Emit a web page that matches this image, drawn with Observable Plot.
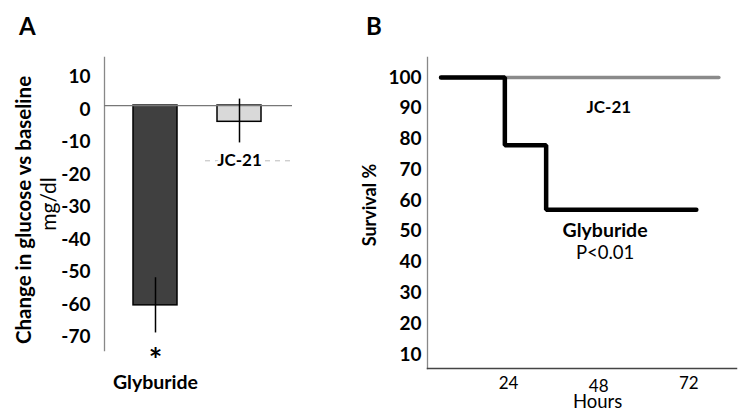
<!DOCTYPE html>
<html>
<head>
<meta charset="utf-8">
<script src="https://cdn.jsdelivr.net/npm/d3@7"></script>
<script src="https://cdn.jsdelivr.net/npm/@observablehq/plot@0.6"></script>
<style>
  html, body { margin: 0; padding: 0; background: #fff; }
  #wrap { position: relative; width: 738px; height: 412px; overflow: hidden; font-family: Lato, sans-serif; }
  #a, #b { position: absolute; top: 0; }
  #a { left: 0; }
  #b { left: 370px; }
  .panel { position: absolute; font-weight: bold; font-size: 24px; color: #000; line-height: 1; }
</style>
</head>
<body>
<div id="wrap">
  <div id="a"></div>
  <div id="b"></div>
  <div class="panel" style="left:19px; top:14px;">A</div>
  <div class="panel" style="left:366px; top:14px;">B</div>
</div>
<script>
// ---------- Panel A data ----------
const categories = ["Glyburide", "JC-21"];
const glucoseChange = [-61.5, -5];
const errLow = [-70, -11.5];
const errHigh = [-53, 2];
const yTicksA = [10, 0, -10, -20, -30, -40, -50, -60, -70];
const yDomainA = [-75.4, 14.8];

// ---------- Panel B data ----------
const glyHours = [6, 23, 34, 74];
const glySurvival = [100, 78, 57, 57];
const jcHours = [6, 80];
const jcSurvival = [100, 100];
const yTicksB = [10, 20, 30, 40, 50, 60, 70, 80, 90, 100];
const xTicksB = [24, 48, 72];
const xDomainB = [2.4, 84.7];
const yDomainB = [5.45, 106.5];

const barsA = categories.map((c, i) => ({cat: c, value: glucoseChange[i], lo: errLow[i], hi: errHigh[i]}));
const glyLine = glyHours.map((h, i) => ({h, s: glySurvival[i]}));
const jcLine = jcHours.map((h, i) => ({h, s: jcSurvival[i]}));
const plain = d => String(d);

const chartA = Plot.plot({
  width: 370,
  height: 412,
  marginLeft: 104,
  marginRight: 78,
  marginTop: 57,
  marginBottom: 62,
  style: {fontFamily: "Lato, sans-serif", background: "transparent", overflow: "visible"},
  x: {domain: categories, range: [132, 261], paddingInner: 0.48, paddingOuter: 0, axis: null},
  y: {domain: yDomainA, axis: null},
  marks: [
    Plot.frame({anchor: "left", stroke: "#888", strokeWidth: 1.3}),
    Plot.tickY([{cat: "JC-21", v: -17}], {x: "cat", y: "v", stroke: "#bbb", strokeDasharray: "5,5", strokeWidth: 1, insetLeft: -12, insetRight: -31}),
    Plot.barY(barsA, {x: "cat", y: "value", fill: d => d.cat === "Glyburide" ? "#404040" : "#d9d9d9", stroke: "#000", strokeWidth: 1.5}),
    Plot.ruleY([0], {stroke: "#777", strokeWidth: 1.3}),
    Plot.ruleX(barsA, {x: "cat", y1: "lo", y2: "hi", stroke: "#000", strokeWidth: 1.5}),
    Plot.axisY(yTicksA, {tickSize: 0, tickPadding: 14, tickFormat: plain, fontSize: 19, fontWeight: "bold", fill: "#000", dy: 4, label: null}),
    Plot.text([{cat: "JC-21", v: -17}], {x: "cat", y: "v", text: d => d.cat, fontSize: 17, fontWeight: "bold", fill: "#000", stroke: "white", strokeWidth: 6}),
    Plot.text([{cat: "Glyburide"}], {x: "cat", text: () => "*", frameAnchor: "bottom", lineAnchor: "middle", dy: 11, fontSize: 32, fontWeight: "bold", fill: "#000"}),
    Plot.text([{cat: "Glyburide"}], {x: "cat", text: "cat", frameAnchor: "bottom", lineAnchor: "middle", dy: 32, fontSize: 19.5, fontWeight: "bold", fill: "#000"}),
    Plot.text(["Change in glucose vs baseline"], {text: d => d, frameAnchor: "left", textAnchor: "middle", lineAnchor: "middle", rotate: -90, dx: -80, dy: 6, fontSize: 20.5, fontWeight: "bold", fill: "#000"}),
    Plot.text(["mg/dl"], {text: d => d, frameAnchor: "left", textAnchor: "middle", lineAnchor: "middle", rotate: -90, dx: -55, dy: 0, fontSize: 21, fill: "#000"})
  ]
});
document.getElementById("a").appendChild(chartA);

const chartB = Plot.plot({
  width: 368,
  height: 412,
  marginLeft: 57,
  marginRight: 2,
  marginTop: 57,
  marginBottom: 44,
  style: {fontFamily: "Lato, sans-serif", background: "transparent", overflow: "visible"},
  x: {domain: xDomainB, axis: null},
  y: {domain: yDomainB, axis: null},
  marks: [
    Plot.frame({anchor: "left", stroke: "#888", strokeWidth: 1.3}),
    Plot.frame({anchor: "bottom", stroke: "#444", strokeWidth: 1.5}),
    Plot.line(jcLine, {x: "h", y: "s", stroke: "#8a8a8a", strokeWidth: 3.5}),
    Plot.line(glyLine, {x: "h", y: "s", curve: "step-after", stroke: "#000", strokeWidth: 4.5, strokeLinejoin: "miter"}),
    Plot.axisY(yTicksB, {tickSize: 0, tickPadding: 6, tickFormat: plain, fontSize: 19, fontWeight: "bold", fill: "#000", label: null}),
    Plot.axisX(xTicksB.filter(t => t !== 48), {tickSize: 0, tickPadding: 8, tickFormat: plain, fontSize: 17, fill: "#000", label: null}),
    Plot.axisX(xTicksB.filter(t => t === 48), {tickSize: 0, tickPadding: 11, tickFormat: plain, fontSize: 17, fill: "#000", label: null}),
    Plot.text(["Hours"], {text: d => d, frameAnchor: "bottom", lineAnchor: "middle", x: () => 47.7, dy: 34, fontSize: 18.5, fill: "#000"}),
    Plot.text(["Survival %"], {text: d => d, frameAnchor: "left", textAnchor: "middle", lineAnchor: "middle", rotate: -90, dx: -57, dy: -8, fontSize: 18, fontWeight: "bold", fill: "#000"}),
    Plot.text([{t: "JC-21", h: 50.7, s: 90.3}], {x: "h", y: "s", text: "t", fontSize: 17, fontWeight: "bold", fill: "#000"}),
    Plot.text([{t: "Glyburide", h: 49.7, s: 50.3}], {x: "h", y: "s", text: "t", fontSize: 19.5, fontWeight: "bold", fill: "#000"}),
    Plot.text([{t: "P<0.01", h: 49.7, s: 42.8}], {x: "h", y: "s", text: "t", fontSize: 18.5, fill: "#000"})
  ]
});
document.getElementById("b").appendChild(chartB);
</script>
</body>
</html>
